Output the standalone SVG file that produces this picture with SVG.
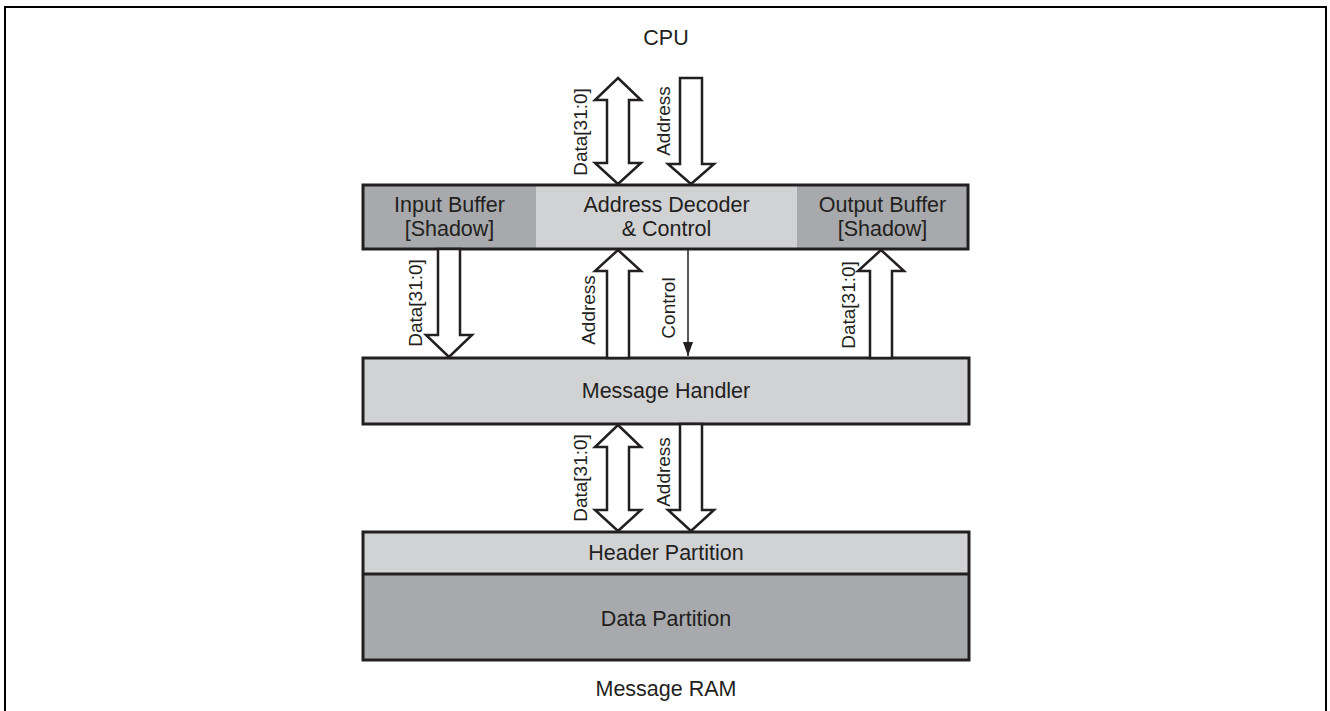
<svg xmlns="http://www.w3.org/2000/svg" width="1330" height="711" viewBox="0 0 1330 711">
<style>
.t{font-family:"Liberation Sans",Arial,sans-serif;font-size:21.5px;fill:#231f20;text-anchor:middle}
.r{font-family:"Liberation Sans",Arial,sans-serif;font-size:19px;fill:#231f20;text-anchor:middle}
.box{stroke:#231f20;stroke-width:3;fill:none}
.lt{fill:#d1d2d4}
.dk{fill:#a7a9ac}
.fat{fill:#fff;stroke:#231f20;stroke-width:2.5;stroke-linejoin:miter}
</style>
<defs>
<marker id="ah" viewBox="0 0 14 10" refX="14" refY="5" markerWidth="14" markerHeight="10" markerUnits="userSpaceOnUse" orient="auto">
<path d="M0,0 L14,5 L0,10 Z" fill="#231f20"/>
</marker>
</defs>
<rect x="5" y="7" width="1321" height="720" fill="#fff" stroke="#000" stroke-width="2"/>
<text class="t" x="666" y="45">CPU</text>

<g id="top-block">
<rect class="dk" x="363" y="185" width="173" height="64"/>
<rect class="lt" x="536" y="185" width="261" height="64"/>
<rect class="dk" x="797" y="185" width="171" height="64"/>
<rect class="box" x="363" y="185" width="605" height="64"/>
</g>
<g id="input-buffer">
<text class="t" x="449.5" y="212">Input Buffer</text>
<text class="t" x="449.5" y="236">[Shadow]</text>
</g>
<g id="address-decoder">
<text class="t" x="666.5" y="212">Address Decoder</text>
<text class="t" x="666.5" y="236">&amp; Control</text>
</g>
<g id="output-buffer">
<text class="t" x="882.5" y="212">Output Buffer</text>
<text class="t" x="882.5" y="236">[Shadow]</text>
</g>

<g id="message-handler">
<rect class="lt" x="363" y="358" width="606" height="66"/>
<rect class="box" x="363" y="358" width="606" height="66"/>
<text class="t" x="666" y="398">Message Handler</text>
</g>

<g id="message-ram">
<rect class="lt" x="363" y="532" width="606" height="42"/>
<rect class="dk" x="363" y="574" width="606" height="86"/>
<rect class="box" x="363" y="532" width="606" height="128"/>
<line x1="363" y1="574" x2="969" y2="574" stroke="#231f20" stroke-width="3"/>
<text class="t" x="666" y="560">Header Partition</text>
<text class="t" x="666" y="626">Data Partition</text>
<text class="t" x="666" y="696">Message RAM</text>
</g>

<g id="connectors">
<polygon class="fat" points="618,78 641,100 629,100 629,163 641,163 618,184 595,163 607,163 607,100 595,100"/>
<polygon class="fat" points="680,78 702,78 702,164 714,164 691,184 668,164 680,164"/>
<polygon class="fat" points="438,249 460,249 460,335 472,335 449,357 426,335 438,335"/>
<polygon class="fat" points="607,358 629,358 629,271 641,271 618,250 595,271 607,271"/>
<line x1="688" y1="249" x2="688" y2="356" stroke="#231f20" stroke-width="1.5" marker-end="url(#ah)"/>
<polygon class="fat" points="870,358 892,358 892,271 904,271 881,250 858,271 870,271"/>
<polygon class="fat" points="618,425 641,447 629,447 629,510 641,510 618,531 595,510 607,510 607,447 595,447"/>
<polygon class="fat" points="680,424 702,424 702,510 714,510 691,531 668,510 680,510"/>
</g>

<g id="labels">
<text class="r" transform="translate(587,132) rotate(-90)">Data[31:0]</text>
<text class="r" transform="translate(670,121) rotate(-90)">Address</text>
<text class="r" transform="translate(422,303) rotate(-90)">Data[31:0]</text>
<text class="r" transform="translate(595,310) rotate(-90)">Address</text>
<text class="r" transform="translate(675,308) rotate(-90)">Control</text>
<text class="r" transform="translate(855,305) rotate(-90)">Data[31:0]</text>
<text class="r" transform="translate(587,478) rotate(-90)">Data[31:0]</text>
<text class="r" transform="translate(670,472) rotate(-90)">Address</text>
</g>
</svg>
